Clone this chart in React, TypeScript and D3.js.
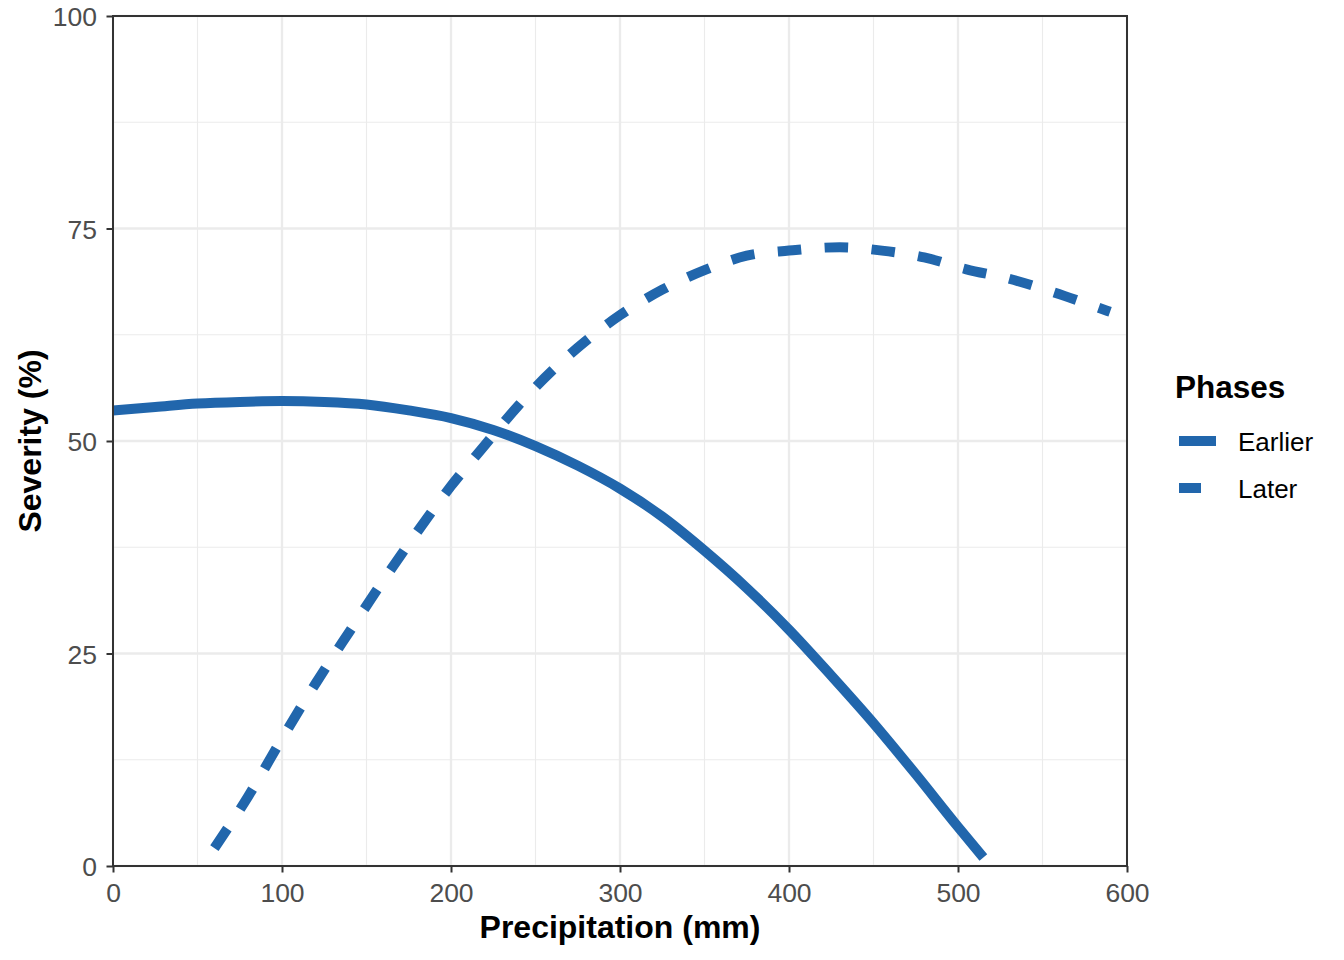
import React, { useEffect, useRef } from 'react'
import * as d3 from 'd3'

// curves
const earlierX = [0, 25, 50, 75, 100, 125, 150, 175, 200, 225, 250, 275, 300, 325, 350, 375, 400, 425, 450, 475, 500, 515]
const earlierY = [53.6, 54.0, 54.4, 54.6, 54.7, 54.6, 54.3, 53.6, 52.7, 51.3, 49.4, 47.1, 44.4, 41.1, 37.1, 32.7, 27.8, 22.4, 16.8, 10.8, 4.6, 1.0]

const laterX = [60, 80, 100, 120, 140, 160, 180, 200, 220, 240, 260, 280, 300, 325, 350, 375, 400, 430, 455, 480, 505, 530, 555, 580, 590]
const laterY = [2.1, 8.2, 15.0, 21.5, 27.6, 33.6, 39.3, 44.7, 49.5, 54.2, 58.3, 61.8, 64.8, 67.8, 70.1, 71.8, 72.4, 72.8, 72.4, 71.6, 70.2, 69.1, 67.6, 65.9, 65.2]

const phases = ['Earlier', 'Later']
const xTicks = [0, 100, 200, 300, 400, 500, 600]
const yTicks = [0, 25, 50, 75, 100]
const xMinor = [50, 150, 250, 350, 450, 550]
const yMinor = [12.5, 37.5, 62.5, 87.5]

export default function App() {
  const ref = useRef<SVGSVGElement | null>(null)

  useEffect(() => {
    document.body.style.margin = '0'
    const svg = d3.select(ref.current!)
    svg.selectAll('*').remove()
    const width = 1344
    const height = 960
    const margin = { top: 16, right: 217, bottom: 94, left: 113 }
    const font = '"Liberation Sans", Arial, sans-serif'
    const blue = '#2166ac'

    const x = d3.scaleLinear().domain([0, 600]).range([margin.left, width - margin.right])
    const y = d3.scaleLinear().domain([0, 100]).range([height - margin.bottom, margin.top])

    svg.append('rect').attr('width', width).attr('height', height).attr('fill', '#fff')

    const grid = svg.append('g')
    grid.selectAll('.vmin').data(xMinor).enter().append('line')
      .attr('x1', d => x(d)).attr('x2', d => x(d)).attr('y1', y(0)).attr('y2', y(100))
      .attr('stroke', '#ebebeb').attr('stroke-width', 1.1)
    grid.selectAll('.hmin').data(yMinor).enter().append('line')
      .attr('x1', x(0)).attr('x2', x(600)).attr('y1', d => y(d)).attr('y2', d => y(d))
      .attr('stroke', '#ebebeb').attr('stroke-width', 1.1)
    grid.selectAll('.vmaj').data(xTicks).enter().append('line')
      .attr('x1', d => x(d)).attr('x2', d => x(d)).attr('y1', y(0)).attr('y2', y(100))
      .attr('stroke', '#ebebeb').attr('stroke-width', 2.3)
    grid.selectAll('.hmaj').data(yTicks).enter().append('line')
      .attr('x1', x(0)).attr('x2', x(600)).attr('y1', d => y(d)).attr('y2', d => y(d))
      .attr('stroke', '#ebebeb').attr('stroke-width', 2.3)

    const line = d3.line<[number, number]>().x(d => x(d[0])).y(d => y(d[1])).curve(d3.curveMonotoneX)
    const earlier = earlierX.map((v, i) => [v, earlierY[i]] as [number, number])
    const later = laterX.map((v, i) => [v, laterY[i]] as [number, number])

    svg.append('path').attr('d', line(earlier)).attr('fill', 'none')
      .attr('stroke', blue).attr('stroke-width', 10)
    svg.append('path').attr('d', line(later)).attr('fill', 'none')
      .attr('stroke', blue).attr('stroke-width', 10).attr('stroke-dasharray', '23.5,23.5')

    // panel border
    svg.append('rect').attr('x', x(0)).attr('y', y(100)).attr('width', x(600) - x(0)).attr('height', y(0) - y(100))
      .attr('fill', 'none').attr('stroke', '#333').attr('stroke-width', 2)

    const xAxis = svg.append('g').attr('transform', `translate(0,${y(0)})`)
      .call(d3.axisBottom(x).tickValues(xTicks).tickSize(6.5).tickPadding(4))
    const yAxis = svg.append('g').attr('transform', `translate(${x(0)},0)`)
      .call(d3.axisLeft(y).tickValues(yTicks).tickSize(6.5).tickPadding(4))
    for (const a of [xAxis, yAxis]) {
      a.select('.domain').remove()
      a.selectAll('line').attr('stroke', '#333').attr('stroke-width', 2)
      a.selectAll('text').attr('fill', '#4d4d4d').attr('font-size', 26.5).attr('font-family', font)
    }
    xAxis.selectAll('text').attr('dy', null).attr('y', 36)
    yAxis.selectAll('text').attr('dy', '0.36em').attr('x', -16)

    svg.append('text').attr('x', x(300)).attr('y', 938).attr('text-anchor', 'middle')
      .attr('font-family', font).attr('font-weight', 700).attr('font-size', 32).text('Precipitation (mm)')
    svg.append('text').attr('transform', `translate(41,${y(50)}) rotate(-90)`).attr('text-anchor', 'middle')
      .attr('font-family', font).attr('font-weight', 700).attr('font-size', 32).text('Severity (%)')

    // legend
    const lg = svg.append('g')
    lg.append('text').attr('x', 1175).attr('y', 398).attr('font-family', font).attr('font-weight', 700)
      .attr('font-size', 31.5).text('Phases')
    phases.forEach((p, i) => {
      const cy = 441 + i * 47
      lg.append('line').attr('x1', 1179).attr('x2', 1216).attr('y1', cy).attr('y2', cy)
        .attr('stroke', blue).attr('stroke-width', 10)
        .attr('stroke-dasharray', i === 1 ? '22,23' : null)
      lg.append('text').attr('x', 1238).attr('y', cy + 10).attr('font-family', font)
        .attr('font-size', 26).attr('fill', '#000').text(p)
    })
  }, [])

  return <svg ref={ref} width={1344} height={960} style={{ display: 'block' }} />
}
